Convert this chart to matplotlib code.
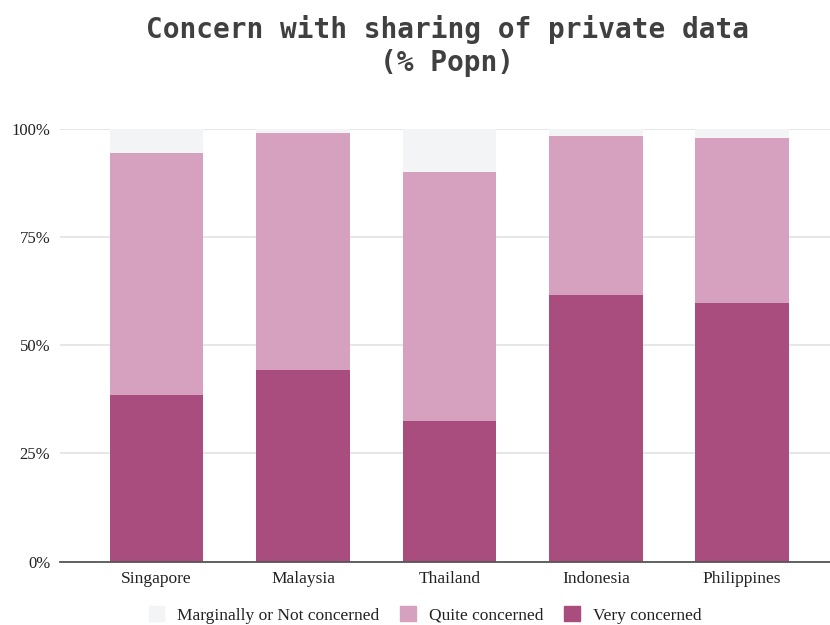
import matplotlib
matplotlib.use("Agg")
import matplotlib.pyplot as plt
from matplotlib.patches import Patch
from matplotlib.ticker import FuncFormatter

countries = ["Singapore", "Malaysia", "Thailand", "Indonesia", "Philippines"]
very = [38.5, 44.3, 32.6, 61.6, 59.7]
quite = [55.8, 54.6, 57.5, 36.7, 38.1]
marginal = [round(100 - v - q, 1) for v, q in zip(very, quite)]
series_names = ["Marginally or Not concerned", "Quite concerned", "Very concerned"]
yticks = [0, 25, 50, 75, 100]

c_very = "#a84d7d"
c_quite = "#d6a1bf"
c_marg = "#f3f4f5"

fig = plt.figure(figsize=(8.3, 6.25), dpi=100)
ax = fig.add_axes([60/830, 0.1013, 770/830, 0.6928])

x = list(range(len(countries)))
w = 0.64
ax.bar(x, very, width=w, color=c_very, zorder=3)
ax.bar(x, quite, width=w, bottom=very, color=c_quite, zorder=3)
bot2 = [v + q for v, q in zip(very, quite)]
ax.bar(x, marginal, width=w, bottom=bot2, color=c_marg, zorder=3)

ax.set_xlim(-0.66, 4.6)
ax.set_ylim(0, 100)
ax.set_yticks(yticks)
ax.yaxis.set_major_formatter(FuncFormatter(lambda v, p: f"{int(v)}%"))
ax.set_xticks(x)
ax.set_xticklabels(countries)
ax.grid(axis="y", color="#e2e2e2", linewidth=1.2, zorder=0)
for s in ["top", "right", "left"]:
    ax.spines[s].set_visible(False)
ax.spines["bottom"].set_color("#555555")
ax.spines["bottom"].set_linewidth(1.3)
ax.spines["bottom"].set_zorder(4)
ax.tick_params(axis="both", length=0, labelsize=12.5, labelcolor="#222222")
ax.tick_params(axis="y", labelsize=12)
ax.tick_params(axis="x", pad=7)
ax.tick_params(axis="y", pad=7)
for lab in ax.get_xticklabels() + ax.get_yticklabels():
    lab.set_family("Liberation Serif")

fig.text(447/830, 1 - 29/625, "Concern with sharing of private data",
         family="DejaVu Sans Mono", weight="bold", fontsize=20,
         color="#404040", ha="center", va="center")
fig.text(447/830, 1 - 63/625, "(% Popn)",
         family="DejaVu Sans Mono", weight="bold", fontsize=20,
         color="#404040", ha="center", va="center")

handles = [Patch(color=c_marg), Patch(color=c_quite), Patch(color=c_very)]
fig.legend(handles, series_names, loc="center", bbox_to_anchor=(425/830, 1 - 615/625),
           ncol=3, frameon=False, prop={"family": "Liberation Serif", "size": 12.5},
           handlelength=0.9, handleheight=0.9, columnspacing=1.2, handletextpad=0.75,
           labelcolor="#222222")

fig.savefig("out.png", dpi=100)
